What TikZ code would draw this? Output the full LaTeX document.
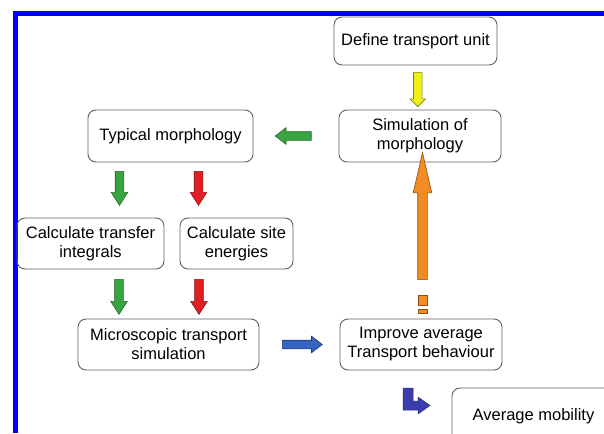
\documentclass[tikz,border=0pt]{standalone}
\usepackage{fontspec}
\setmainfont{Liberation Sans}
\usetikzlibrary{shapes.arrows,calc}

\definecolor{boxgray}{RGB}{95,95,95}
\definecolor{arrgreen}{RGB}{55,165,65}
\definecolor{arrgreenD}{RGB}{35,105,40}
\definecolor{arrred}{RGB}{225,30,35}
\definecolor{arrredD}{RGB}{140,20,20}
\definecolor{arryellow}{RGB}{240,240,25}
\definecolor{arryellowD}{RGB}{125,125,20}
\definecolor{arrorange}{RGB}{242,140,35}
\definecolor{arrorangeD}{RGB}{140,80,20}
\definecolor{arrblue}{RGB}{55,100,190}
\definecolor{arrblueD}{RGB}{30,55,120}
\definecolor{arrnavy}{RGB}{60,60,170}

\begin{document}
\begin{tikzpicture}[x=1pt,y=-1pt,
    box/.style={draw=boxgray,line width=0.9pt,rounded corners=8pt,align=center,
      inner sep=0pt,font=\fontsize{16.5}{19}\selectfont},
    blockarrow/.style={single arrow,line width=0.6pt,inner sep=4pt,
      single arrow head extend=4pt,minimum width=0pt}]
    \clip (0,0) rectangle (604,433);
    \fill[white] (0,0) rectangle (604,433);
    \draw[blue,line width=5pt] (15,433) -- (15,14) -- (604,14);

    \node[box,minimum width=163pt,minimum height=48pt] (def) at (415.5,41) {Define transport unit};
    \node[box,minimum width=162pt,minimum height=52pt] (sim) at (420,136) {Simulation of\\morphology};
    \node[box,minimum width=165pt,minimum height=52pt] (typ) at (170.5,136) {Typical morphology};
    \node[box,minimum width=147pt,minimum height=51pt] (calcT) at (90.5,243.5) {Calculate transfer\\integrals};
    \node[box,minimum width=113pt,minimum height=51pt] (calcS) at (236.5,243.5) {Calculate site\\energies};
    \node[box,minimum width=181pt,minimum height=51pt] (micro) at (168.5,344.5) {Microscopic transport\\simulation};
    \node[box,minimum width=162pt,minimum height=51pt] (imp) at (421,344.5) {Improve average\\Transport behaviour};
    \node[box,minimum width=163pt,minimum height=57pt] (avg) at (533.5,416.5) {Average mobility};

    % block arrows
    \node[blockarrow,fill=arryellow,draw=arryellowD,minimum height=34pt,rotate=-90,
      single arrow head extend=3.5pt] (ydown) at ($(def.south)!0.5!(sim.north)$ |- 0,90) {};
    \node[blockarrow,fill=arrgreen,draw=arrgreenD,minimum height=36pt,rotate=180,
      single arrow tip angle=75] (gleft) at ($(typ.east)!0.5!(sim.west)$) {};
    \node[blockarrow,fill=arrgreen,draw=arrgreenD,minimum height=34pt,rotate=-90,
      single arrow tip angle=65] (gdown1) at (119.5,185) {};
    \node[blockarrow,fill=arrred,draw=arrredD,minimum height=34pt,rotate=-90,
      single arrow tip angle=65] (rdown1) at (198.5,185) {};
    \node[blockarrow,fill=arrgreen,draw=arrgreenD,minimum height=35pt,rotate=-90,
      single arrow tip angle=65] (gdown2) at (119,293.5) {};
    \node[blockarrow,fill=arrred,draw=arrredD,minimum height=35pt,rotate=-90,
      single arrow tip angle=65] (rdown2) at (199,293.5) {};
    \node[blockarrow,fill=arrblue,draw=arrblueD,minimum height=40pt,
      single arrow tip angle=75] (bright) at ($(micro.east)!0.5!(imp.west)$ |- 0,349) {};
    \node[blockarrow,fill=arrorange,draw=arrorangeD,minimum height=127pt,rotate=90,
      inner sep=4.5pt,single arrow head extend=4.5pt,single arrow tip angle=26] (oup) at (422.5,226.5) {};
    \filldraw[fill=arrorange,draw=arrorangeD,line width=0.6pt] (418,295) rectangle (427,305);
    \filldraw[fill=arrorange,draw=arrorangeD,line width=0.6pt] (418,309) rectangle (427,313);

    % turn arrow to the result
    \filldraw[fill=arrnavy,draw=arrblueD,line width=0.5pt]
    (403,388) -- (413,388) -- (413,401) -- (418,401) -- (418,397) -- (430,405.5)
    -- (418,414) -- (418,410) -- (403,410) -- cycle;
\end{tikzpicture}
\end{document}
